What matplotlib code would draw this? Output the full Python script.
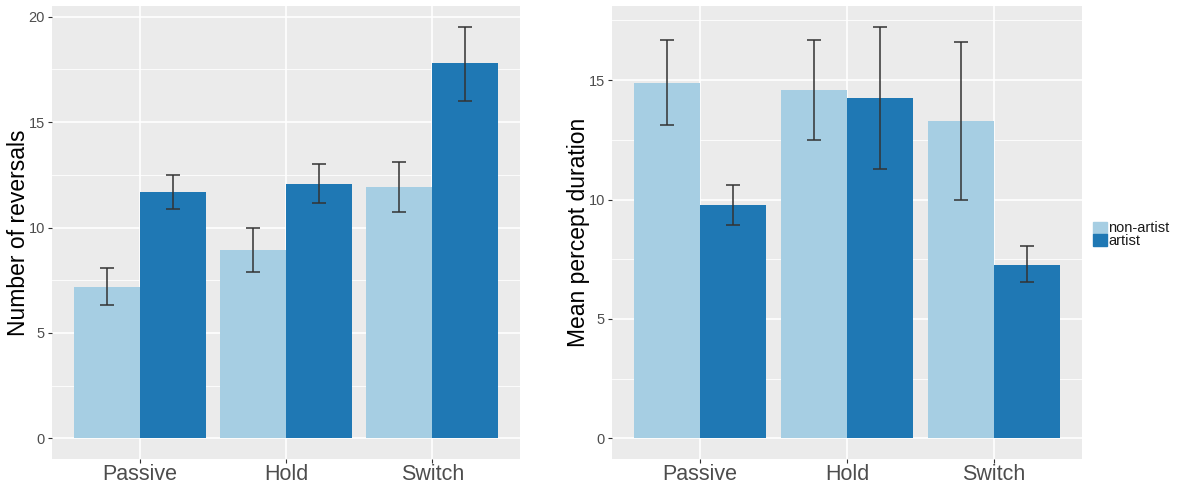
import numpy as np
import matplotlib
matplotlib.use('Agg')
import matplotlib.pyplot as plt
from matplotlib.patches import Rectangle

plt.rcParams['font.family'] = ['Liberation Sans', 'DejaVu Sans']

conditions = ['Passive', 'Hold', 'Switch']
groups = ['non-artist', 'artist']
colors = ['#a6cee3', '#1f78b4']

# number of reversals
rev_mean = {'non-artist': [7.19, 8.92, 11.91], 'artist': [11.68, 12.08, 17.79]}
rev_low = {'non-artist': [6.32, 7.87, 10.73], 'artist': [10.88, 11.18, 16.02]}
rev_high = {'non-artist': [8.06, 9.96, 13.12], 'artist': [12.50, 13.01, 19.53]}
rev_ticks = [0, 5, 10, 15, 20]

# mean percept duration
dur_mean = {'non-artist': [14.87, 14.58, 13.30], 'artist': [9.76, 14.26, 7.27]}
dur_low = {'non-artist': [13.11, 12.50, 10.00], 'artist': [8.92, 11.28, 6.54]}
dur_high = {'non-artist': [16.67, 16.69, 16.61], 'artist': [10.60, 17.24, 8.04]}
dur_ticks = [0, 5, 10, 15]

W, H = 1185, 486
fig = plt.figure(figsize=(W / 100, H / 100), dpi=100)
ax1 = fig.add_axes([52 / W, 27 / H, 468 / W, 453 / H])
ax2 = fig.add_axes([612 / W, 27 / H, 470 / W, 453 / H])


def panel(ax, mean, low, high, ticks, ylabel, lab_x):
    x = np.arange(len(conditions))
    bw = 0.45
    ax.set_facecolor('#EBEBEB')
    for k, g in enumerate(groups):
        xs = x + (k - 0.5) * bw
        m = np.array(mean[g])
        ax.bar(xs, m, width=bw, color=colors[k], zorder=3)
        err = [m - np.array(low[g]), np.array(high[g]) - m]
        ax.errorbar(xs, m, yerr=err, fmt='none', ecolor='#333333',
                    elinewidth=1.1, capsize=5.3, capthick=1.1, zorder=4)
    top = max(max(high[g]) for g in groups)
    ax.set_xlim(-0.6, len(conditions) - 0.4)
    ax.set_ylim(-0.05 * top, top * 1.05)
    ax.set_xticks(x)
    ax.set_xticklabels(conditions, fontsize=15.5, color='#4D4D4D')
    ax.set_yticks(ticks)
    ax.set_yticklabels([str(t) for t in ticks], fontsize=10.5, color='#4D4D4D')
    minor = [t + 2.5 for t in ticks if t + 2.5 < top * 1.05]
    ax.set_yticks(minor, minor=True)
    ax.grid(True, which='major', color='white', linewidth=1.2, zorder=0)
    ax.grid(True, which='minor', axis='y', color='white', linewidth=0.6, zorder=0)
    ax.set_axisbelow(True)
    ax.tick_params(axis='both', which='major', length=3, width=0.8,
                   color='#333333', pad=2)
    ax.tick_params(axis='x', which='major', pad=0.5)
    ax.tick_params(axis='y', which='minor', length=0)
    for s in ax.spines.values():
        s.set_visible(False)
    ax.set_ylabel(ylabel, fontsize=16.5, color='black')
    ax.yaxis.set_label_coords(lab_x, 0.5)


panel(ax1, rev_mean, rev_low, rev_high, rev_ticks, 'Number of reversals', -0.047)
panel(ax2, dur_mean, dur_low, dur_high, dur_ticks, 'Mean percept duration', -0.047)

# legend
for k, g in enumerate(groups):
    y0 = H - 234 - k * 12.5
    fig.add_artist(Rectangle((1093 / W, y0 / H), 14 / W, 12 / H,
                             transform=fig.transFigure, color=colors[k]))
    fig.text(1108 / W, (y0 + 6) / H, g, fontsize=10.5, color='#1a1a1a',
             va='center', ha='left')

fig.savefig('out.png', dpi=100)
